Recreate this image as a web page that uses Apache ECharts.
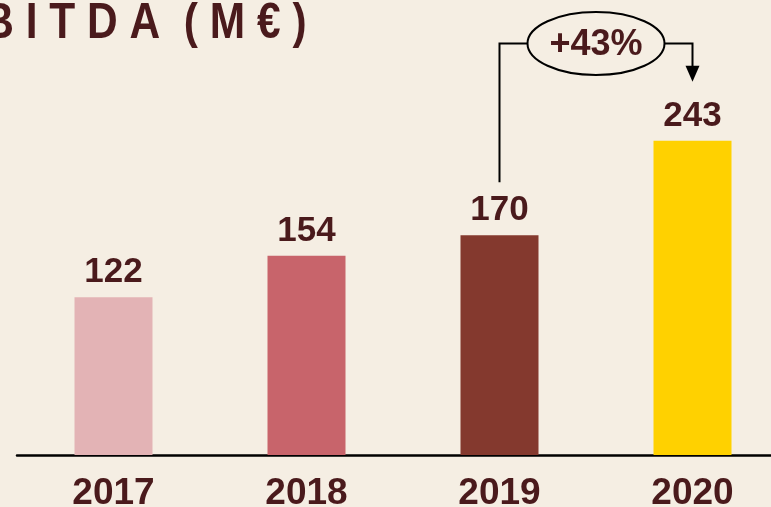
<!DOCTYPE html>
<html>
<head>
<meta charset="utf-8">
<script src="https://cdn.jsdelivr.net/npm/echarts@6/dist/echarts.min.js"></script>
<style>
  html, body { margin: 0; padding: 0; background: #f5eee3; }
  #chart { width: 771px; height: 507px; }
</style>
</head>
<body>
<div id="chart"></div>
<script>
const years = ['2017', '2018', '2019', '2020']
const ebitda = [122, 154, 170, 243]
const barColors = ['#e3b3b5', '#c8646b', '#84392e', '#ffd100']
const growthLabel = '+43%'

const textColor = '#4a1a1c'

const chart = echarts.init(document.getElementById('chart'))

chart.setOption({
  backgroundColor: '#f5eee3',
  animation: false,
  grid: {
    left: 17,
    top: 67,
    width: 772,
    height: 388,
    outerBoundsMode: 'none'
  },
  xAxis: {
    type: 'category',
    data: years,
    axisLine: { lineStyle: { color: '#000', width: 2.5 } },
    axisTick: { show: false },
    axisLabel: {
      margin: 20,
      color: textColor,
      fontFamily: '"Liberation Sans", Arial, sans-serif',
      fontWeight: 'bold',
      fontSize: 37
    }
  },
  yAxis: {
    type: 'value',
    min: 0,
    max: 300,
    show: false
  },
  series: [{
    type: 'bar',
    barWidth: 78,
    data: ebitda.map((v, i) => ({ value: v, itemStyle: { color: barColors[i] } })),
    label: {
      show: true,
      position: 'top',
      distance: 7,
      color: textColor,
      fontFamily: '"Liberation Sans", Arial, sans-serif',
      fontWeight: 'bold',
      fontSize: 35
    }
  }]
})

// growth annotation between 2019 and 2020, placed from the axes
function drawAnnotation() {
  const from = chart.convertToPixel({ seriesIndex: 0 }, [2, ebitda[2]])
  const to = chart.convertToPixel({ seriesIndex: 0 }, [3, ebitda[3]])
  const cx = (from[0] + to[0]) / 2
  const cy = 43.5
  const rx = 68.5
  const ry = 31.5
  const lineStyle = { stroke: '#000', lineWidth: 2, fill: null }

  chart.setOption({
    graphic: [
      {
        // title, first letter runs off the left edge as in the slide
        type: 'text',
        x: -57,
        y: -1,
        scaleX: 0.85,
        style: {
          text: 'E B I T D A  ( M € )',
          fill: textColor,
          font: 'bold 50px "Liberation Sans", Arial, sans-serif'
        }
      },
      {
        type: 'polyline',
        shape: { points: [[from[0], from[1] - 53], [from[0], cy], [cx - rx, cy]] },
        style: lineStyle
      },
      {
        type: 'polyline',
        shape: { points: [[cx + rx, cy], [to[0], cy], [to[0], to[1] - 74]] },
        style: lineStyle
      },
      {
        type: 'polygon',
        shape: { points: [[to[0] - 7, to[1] - 75], [to[0] + 7, to[1] - 75], [to[0], to[1] - 59]] },
        style: { fill: '#000' }
      },
      {
        type: 'ellipse',
        shape: { cx: cx, cy: cy, rx: rx, ry: ry },
        style: { stroke: '#000', lineWidth: 2, fill: '#f5eee3' }
      },
      {
        type: 'text',
        x: cx,
        y: cy + 2,
        style: {
          text: growthLabel,
          fill: textColor,
          font: 'bold 36px "Liberation Sans", Arial, sans-serif',
          align: 'center',
          verticalAlign: 'middle'
        }
      }
    ]
  })
}

drawAnnotation()
</script>
</body>
</html>
